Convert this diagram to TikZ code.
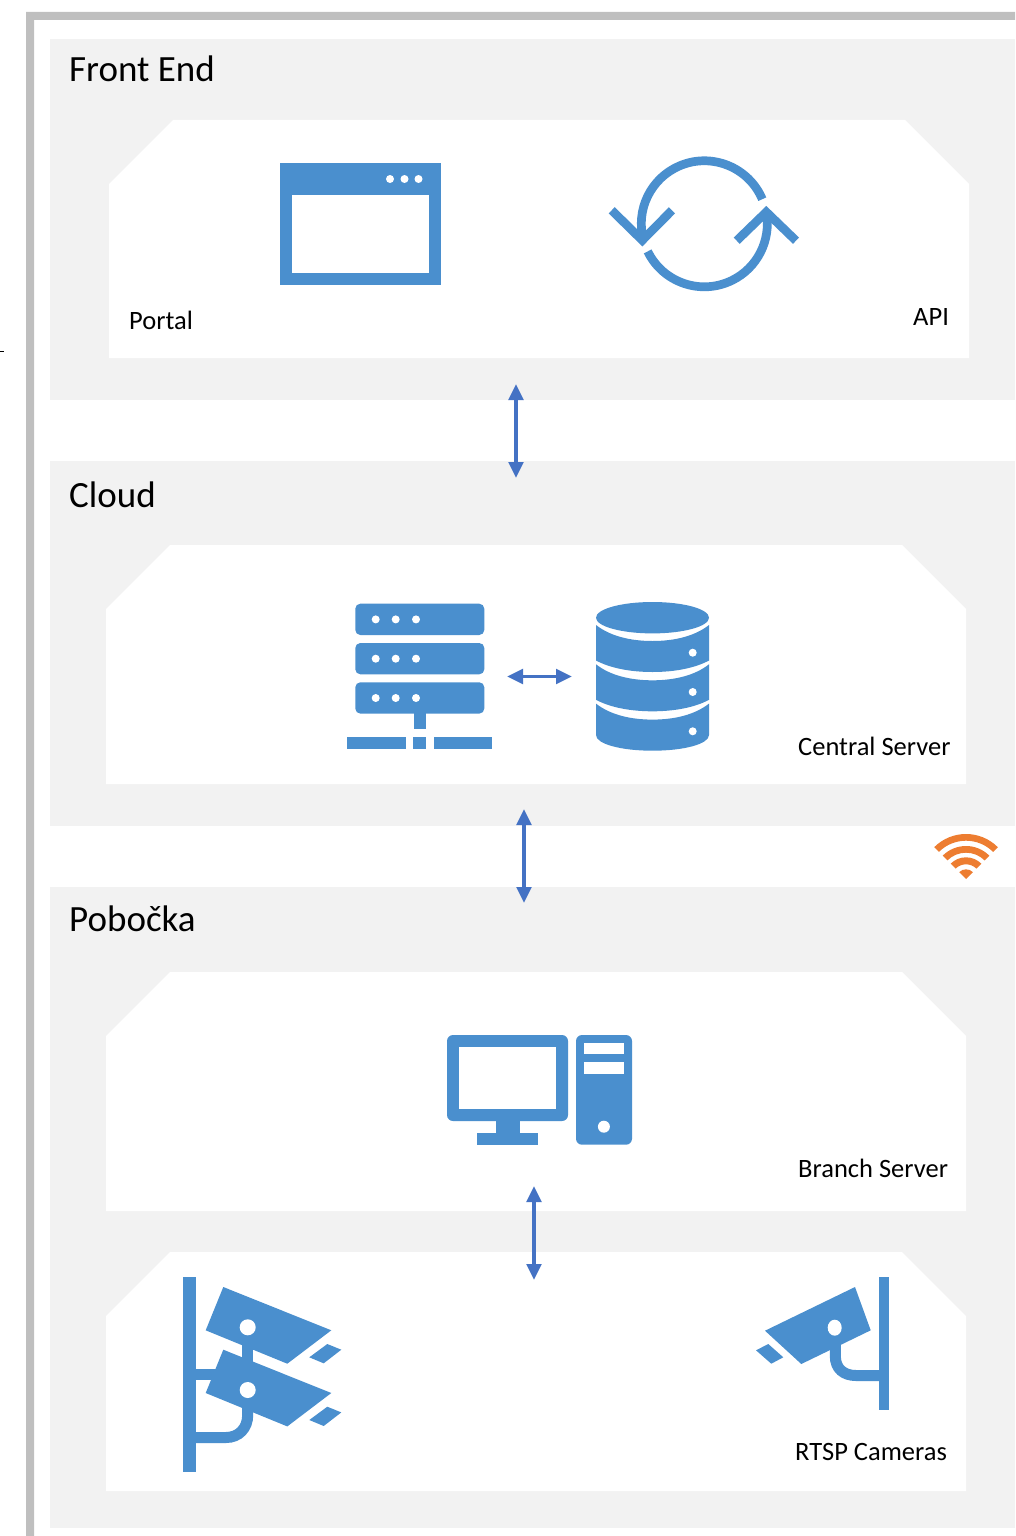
\documentclass[tikz,border=0pt]{standalone}
\usepackage{fontspec}
\setmainfont{Carlito}
\usetikzlibrary{arrows.meta}
\definecolor{iconblue}{HTML}{4A8FCE}
\definecolor{arrowblue}{HTML}{4472C4}
\definecolor{framegray}{HTML}{BFBFBF}
\definecolor{bandgray}{HTML}{F2F2F2}
\definecolor{wifiorange}{HTML}{ED7D31}
\tikzset{
  band/.style={fill=bandgray,draw=none},
  panel/.style={fill=white,draw=none},
  icon/.style={fill=iconblue,draw=none},
  hole/.style={fill=white,draw=none},
  iconline/.style={draw=iconblue,line width=11pt,fill=none},
  biarrow/.style={draw=arrowblue,line width=3.8pt,{Triangle[length=16pt,width=14.5pt]}-{Triangle[length=16pt,width=14.5pt]}},
  heading/.style={anchor=base west,inner sep=0pt,font=\fontsize{37}{42}\selectfont,text=black},
  caption/.style={anchor=base west,inner sep=0pt,font=\fontsize{26.5}{31}\selectfont,text=black},
  wifi/.style={fill=wifiorange,draw=none}
}
\newcommand{\wifiring}[2]{\fill[wifi] (966,879) ++(-45:#1) arc[start angle=-45,end angle=-135,radius=#1] -- ($(966,879)+(-135:#2)$) arc[start angle=-135,end angle=-45,radius=#2] -- cycle;}
\usetikzlibrary{calc}
\begin{document}
\begin{tikzpicture}[x=1pt,y=-1pt]
\useasboundingbox (0,0) rectangle (1015,1536);
\begin{scope}
\clip (0,0) rectangle (1015,1536);
% outer frame
\fill[framegray] (26,1536) -- (26,12) -- (1015,12) -- (1015,20) -- (34,20) -- (34,1536) -- cycle;
\draw[black,line width=1pt] (0,351.5) -- (4,351.5);
% bands
\path[band] (50,39) rectangle (1015,400);
\path[band] (50,461) rectangle (1015,826);
\path[band] (50,887) rectangle (1015,1528);
% panels
\path[panel] (109,358) -- (109,184) -- (173,120) -- (905,120) -- (969,184) -- (969,358) -- cycle;
\path[panel] (106,784) -- (106,609) -- (170,545) -- (902,545) -- (966,609) -- (966,784) -- cycle;
\path[panel] (106,1211) -- (106,1036) -- (170,972) -- (902,972) -- (966,1036) -- (966,1211) -- cycle;
\path[panel] (106,1491) -- (106,1316) -- (170,1252) -- (902,1252) -- (966,1316) -- (966,1491) -- cycle;
% window icon
\path[icon] (280,163) rectangle (441,285);
\path[hole] (292,195) rectangle (429,273);
\foreach \x in {390,404.5,418.5} \path[hole] (\x,179) circle[radius=4];
% refresh icon
\draw[draw=iconblue,line width=8.7pt] (704.3,223.8) ++(-23:63) arc[start angle=-23,end angle=-195,radius=63];
\draw[draw=iconblue,line width=8.7pt] (704.3,223.8) ++(-206:63) arc[start angle=-206,end angle=-370,radius=63];
\draw[draw=iconblue,line width=8.7pt,miter limit=10] (611.7,210.3) -- (642.3,240.3) -- (672,210.3);
\draw[draw=iconblue,line width=8.7pt,miter limit=10] (736.7,240.7) -- (766.3,212) -- (796,240.7);
% server icon
\foreach \y in {603.7,643,682.3} {
  \path[icon,rounded corners=5pt] (355.3,\y) rectangle (484.3,\y+31.3);
  \foreach \x in {375.7,395.7,416} \path[hole] (\x,\y+15.7) circle[radius=4];
}
\path[icon] (414,713) rectangle (426,729.3);
\path[icon] (347.3,737) rectangle (406,749);
\path[icon] (413,737) rectangle (426,749);
\path[icon] (434,737) rectangle (492.3,749);
% database icon
\path[icon] (652.5,617.7) ellipse[x radius=56.5,y radius=15.7];
\foreach \d in {0,39.3} {
  \path[icon] (596,625+\d) .. controls (610,636+\d) and (630,641+\d) .. (652.5,641+\d)
     .. controls (675,641+\d) and (695,636+\d) .. (709,625+\d)
     -- (709,660.5+\d) .. controls (695,668+\d) and (675,672+\d) .. (652.5,672+\d)
     .. controls (630,672+\d) and (610,668+\d) .. (596,660.5+\d) -- cycle;
}
\path[icon] (596,703.6) .. controls (610,714.6) and (630,719.6) .. (652.5,719.6)
     .. controls (675,719.6) and (695,714.6) .. (709,703.6)
     -- (709,735) .. controls (709,744) and (684,750.7) .. (652.5,750.7)
     .. controls (621,750.7) and (596,744) .. (596,735) -- cycle;
\foreach \y in {652.7,692,731.3} \path[hole] (692.7,\y) circle[radius=4];
% computer icon
\path[icon,rounded corners=6pt] (447,1035) rectangle (568,1121);
\path[hole] (459,1046.7) rectangle (556,1109);
\path[icon] (495.7,1120) rectangle (519.5,1133);
\path[icon] (477.4,1132.7) rectangle (537.8,1144.7);
\path[icon,rounded corners=6pt] (576,1035) rectangle (632,1144.7);
\path[hole] (584,1042.7) rectangle (624,1054.3);
\path[hole] (584,1062.3) rectangle (624,1074);
\path[hole] (603.9,1126.7) circle[radius=6];
% wifi
\wifiring{45}{38.3}
\wifiring{33}{26.3}
\wifiring{21.7}{14.7}
\fill[wifi] (966,879) -- ++(-45:9.7) arc[start angle=-45,end angle=-135,radius=9.7] -- cycle;
% left cameras
\path[icon] (183.3,1276.7) rectangle (195.7,1472);
\path[icon] (223.3,1287) -- (331.3,1330.3) -- (287.3,1363.7) -- (205.7,1330.3) -- cycle;
\path[icon] (327.3,1344) -- (341.3,1349.7) -- (323.7,1363.3) -- (309.3,1357.3) -- cycle;
\path[hole] (247.7,1327.3) circle[radius=8];
\path[icon] (242,1344) rectangle (253.3,1362);
\path[icon] (195,1369) rectangle (220,1380.3);
\path[icon] (223.3,1349.7) -- (331.3,1393) -- (287.3,1426.4) -- (205.7,1393) -- cycle;
\path[icon] (327.3,1406.7) -- (341.3,1412.4) -- (323.7,1426) -- (309.3,1420) -- cycle;
\path[hole] (247.7,1390) circle[radius=8];
\draw[iconline] (195,1437.5) -- (226,1437.5) .. controls (239,1437.5) and (247.7,1428) .. (247.7,1415) -- (247.7,1405);
% right camera
\path[icon] (879,1276.7) rectangle (889.3,1410.3);
\path[icon] (855,1287) -- (870.7,1330.3) -- (801.3,1364) -- (765,1330.7) -- cycle;
\path[icon] (768.3,1344) -- (783.3,1357.3) -- (771.3,1363.7) -- (756,1350.3) -- cycle;
\path[hole] (834.7,1327.7) ellipse[x radius=7,y radius=8];
\draw[iconline] (835.3,1340) -- (835.3,1356) .. controls (835.3,1369) and (844,1375.5) .. (856,1375.5) -- (880,1375.5);
% connectors
\coordinate (feBottom) at (516,384);
\coordinate (cloudTop) at (516,478);
\coordinate (cloudBottom) at (524,809);
\coordinate (branchTop) at (524,903);
\coordinate (serverOut) at (534,1186);
\coordinate (camerasIn) at (534,1280);
\coordinate (rackSide) at (507,676.5);
\coordinate (dbSide) at (572,676.5);
\draw[biarrow] (feBottom) -- (cloudTop);
\draw[biarrow] (cloudBottom) -- (branchTop);
\draw[biarrow] (serverOut) -- (camerasIn);
\draw[biarrow] (rackSide) -- (dbSide);
% text
\node[heading] (frontEnd) at (69,82) {Front End};
\node[heading] (cloud) at (69,507) {Cloud};
\node[heading] (pobocka) at (69,931) {Pobočka};
\node[caption] (portal) at (129,329) {Portal};
\node[caption] (api) at (913,325) {API};
\node[caption] (central) at (798,755) {Central Server};
\node[caption] (branch) at (798,1177) {Branch Server};
\node[caption] (rtsp) at (795,1460) {RTSP Cameras};
\end{scope}
\end{tikzpicture}
\end{document}
